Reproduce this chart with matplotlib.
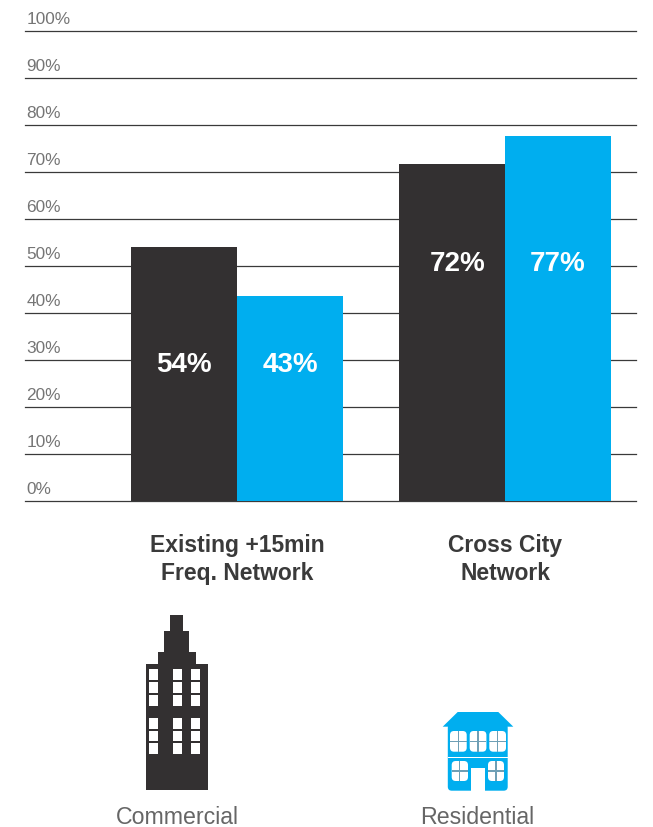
import numpy as np
import matplotlib
matplotlib.use('Agg')
import matplotlib.pyplot as plt
from matplotlib.patches import Rectangle, Polygon, FancyBboxPatch
from matplotlib.transforms import ScaledTranslation

plt.rcParams['font.family'] = ['Liberation Sans', 'DejaVu Sans']

# data
networks = ['Existing +15min\nFreq. Network', 'Cross City\nNetwork']
commercial = [54, 71.7]
residential = [43.6, 77.6]
commercial_labels = ['54%', '72%']
residential_labels = ['43%', '77%']
y_ticks = [0, 10, 20, 30, 40, 50, 60, 70, 80, 90, 100]
icon_names = ['Commercial', 'Residential']

DARK = '#333031'
BLUE = '#00aeef'
W, H = 653, 828

fig = plt.figure(figsize=(W / 100, H / 100), dpi=100, facecolor='white')

# chart area, line at 100% is y=31px and 0% is y=501px
ax = fig.add_axes([25 / W, 1 - 502 / H, 611 / W, 470 / H])
x = np.arange(len(networks))
bw = 106 / 268
ax.bar(x - bw / 2, commercial, bw, color=DARK, zorder=3)
ax.bar(x + bw / 2, residential, bw, color=BLUE, zorder=3)
ax.set_xlim(-212 / 268, 399 / 268)
ax.set_ylim(0, 100)

for s in ax.spines.values():
    s.set_visible(False)
ax.set_yticks(y_ticks)
ax.set_yticklabels(['%d%%' % v for v in y_ticks])
ax.yaxis.grid(True, color='#3a3a3a', linewidth=0.9, clip_on=False)
ax.set_axisbelow(True)
ax.tick_params(axis='y', length=0, pad=-1)
shift = ScaledTranslation(0, 5 / 100, fig.dpi_scale_trans)
for lab in ax.get_yticklabels():
    lab.set_horizontalalignment('left')
    lab.set_verticalalignment('bottom')
    lab.set_fontsize(12.4)
    lab.set_color('#757575')
    lab.set_transform(lab.get_transform() + shift)

ax.set_xticks(x)
ax.set_xticklabels(networks, fontsize=16.5, fontweight='bold', color='#3a3a3a', linespacing=1.3)
ax.tick_params(axis='x', length=0, pad=23)

# labels inside the bars, the 72% one sits a bit right of its bar centre in the original
label_y = [29.2, 50.7]
label_dx = [0, 6 / 268]
for i in range(len(networks)):
    ax.text(x[i] - bw / 2 + label_dx[i], label_y[i], commercial_labels[i], color='white', fontsize=20,
            fontweight='bold', ha='center', va='center', zorder=4)
    ax.text(x[i] + bw / 2, label_y[i], residential_labels[i], color='white', fontsize=20,
            fontweight='bold', ha='center', va='center', zorder=4)

# icons, overlay in pixel coordinates
ov = fig.add_axes([0, 0, 1, 1])
ov.set_xlim(0, W)
ov.set_ylim(H - 1, -1)
ov.axis('off')

# office tower
for x0, x1, top in [(146, 208, 664), (158, 196, 652), (164, 189, 631), (170, 183, 615)]:
    ov.add_patch(Rectangle((x0, top), x1 - x0, 790 - top, color=DARK, lw=0))
for wx in [149, 173, 191]:
    for wy, wh in [(669, 11), (682, 11), (695, 11), (718, 11), (731, 10), (743, 11)]:
        ov.add_patch(Rectangle((wx, wy), 9, wh, color='white', lw=0))

# house
ov.add_patch(Polygon([(442.7, 726.7), (457.7, 712), (498.3, 712), (513.3, 726.7)], color=BLUE, lw=0))
ov.add_patch(FancyBboxPatch((450, 726), 55.5, 62.5, boxstyle='round,pad=2.2,rounding_size=4', color=BLUE, lw=0))
ov.add_patch(Rectangle((447.7, 757), 60, 1, color='white', lw=0))
ov.add_patch(Rectangle((471, 768), 14, 23, color='white', lw=0))


def window(x0, y0, w, h):
    ov.add_patch(FancyBboxPatch((x0 + 3, y0 + 3), w - 6, h - 6, boxstyle='round,pad=3,rounding_size=4',
                                color='white', lw=0))
    ov.add_patch(Rectangle((x0 + w / 2 - 0.6, y0), 1.2, h, color='#6f9fb5', lw=0))
    ov.add_patch(Rectangle((x0, y0 + h / 2 - 0.6), w, 1.2, color='#6f9fb5', lw=0))


for wx in [450, 469.7, 489.3]:
    window(wx, 731, 16.7, 20.7)
window(451.7, 761, 16.3, 20)
window(488, 761, 16, 20)

for name, cx in zip(icon_names, [177, 477]):
    ov.text(cx, 817, name, fontsize=16.7, color='#666666', ha='center', va='center')

fig.savefig('out.png', dpi=100)
